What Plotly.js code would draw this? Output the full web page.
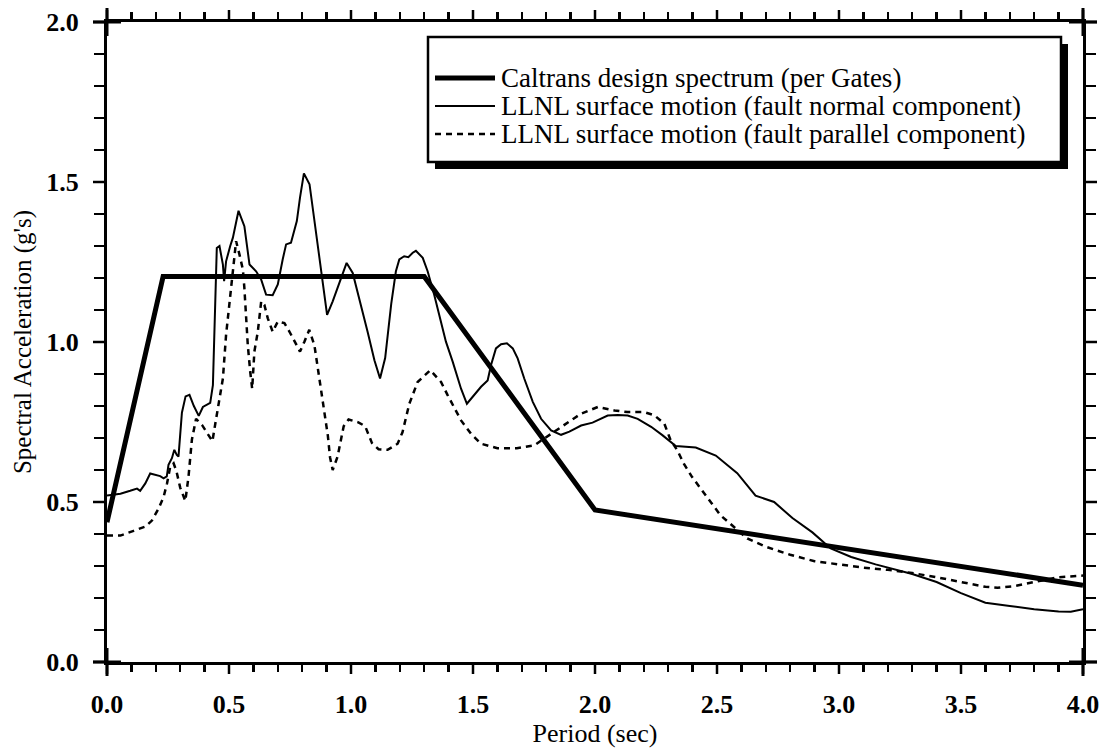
<!DOCTYPE html>
<html>
<head>
<meta charset="utf-8">
<script src="https://cdn.plot.ly/plotly-3.0.1.min.js"></script>
<style>
  html, body { margin: 0; padding: 0; background: #fff; }
  #chart { width: 1109px; height: 750px; }
</style>
</head>
<body>
<div id="chart"></div>
<script>
// Caltrans design spectrum (straight-line segments)
const caltransPeriod = [0.0, 0.23, 1.30, 2.0, 4.0];
const caltransSa     = [0.437, 1.205, 1.205, 0.475, 0.24];

// LLNL surface motion, fault normal component
const normalPeriod = [
  0.00, 0.055, 0.095, 0.123, 0.136, 0.157, 0.177, 0.198, 0.218, 0.232,
  0.245, 0.252, 0.266, 0.276, 0.286, 0.293, 0.307, 0.322, 0.338, 0.356,
  0.376, 0.393, 0.423, 0.434, 0.45, 0.461, 0.475, 0.48, 0.488, 0.505,
  0.516, 0.539, 0.563, 0.584, 0.611, 0.632, 0.652, 0.679, 0.70, 0.72,
  0.734, 0.754, 0.778, 0.791, 0.807, 0.83, 0.854, 0.877, 0.902, 0.925,
  0.955, 0.982, 1.007, 1.034, 1.068, 1.096, 1.119, 1.14, 1.165, 1.184,
  1.198, 1.218, 1.235, 1.253, 1.266, 1.294, 1.314, 1.341, 1.362, 1.389,
  1.417, 1.451, 1.475, 1.499, 1.533, 1.56, 1.574, 1.594, 1.615, 1.639,
  1.663, 1.683, 1.71, 1.745, 1.779, 1.82, 1.861, 1.895, 1.943, 1.99,
  2.025, 2.052, 2.093, 2.134, 2.175, 2.23, 2.276, 2.331, 2.413, 2.495,
  2.583, 2.658, 2.734, 2.809, 2.891, 2.966, 3.05, 3.15, 3.3, 3.4,
  3.5, 3.6, 3.7, 3.8, 3.9, 3.95, 4.0
];
const normalSa = [
  0.52, 0.526, 0.535, 0.542, 0.535, 0.558, 0.589, 0.584, 0.581, 0.574,
  0.58, 0.616, 0.637, 0.663, 0.647, 0.642, 0.779, 0.83, 0.835, 0.80,
  0.769, 0.797, 0.81, 0.865, 1.294, 1.30, 1.242, 1.19, 1.252, 1.30,
  1.326, 1.41, 1.362, 1.242, 1.221, 1.195, 1.148, 1.146, 1.18, 1.258,
  1.305, 1.31, 1.378, 1.451, 1.527, 1.493, 1.362, 1.221, 1.085, 1.127,
  1.19, 1.247, 1.216, 1.137, 1.032, 0.943, 0.886, 0.95, 1.12, 1.221,
  1.258, 1.268, 1.265, 1.279, 1.285, 1.263, 1.221, 1.148, 1.085, 1.001,
  0.938, 0.854, 0.807, 0.828, 0.86, 0.88, 0.928, 0.98, 0.993, 0.996,
  0.98, 0.949, 0.886, 0.813, 0.76, 0.724, 0.71, 0.72, 0.739, 0.748,
  0.76, 0.77, 0.772, 0.77, 0.76, 0.735, 0.709, 0.675, 0.67, 0.645,
  0.59, 0.52, 0.5, 0.45, 0.405, 0.355, 0.328, 0.305, 0.275, 0.25,
  0.215, 0.185, 0.175, 0.165, 0.158, 0.157, 0.165
];

// LLNL surface motion, fault parallel component
const parallelPeriod = [
  0.0, 0.055, 0.109, 0.157, 0.184, 0.211, 0.232, 0.246, 0.259, 0.273,
  0.285, 0.30, 0.321, 0.334, 0.348, 0.365, 0.39, 0.415, 0.432, 0.445,
  0.475, 0.488, 0.502, 0.516, 0.529, 0.543, 0.557, 0.563, 0.57, 0.577,
  0.587, 0.595, 0.604, 0.618, 0.632, 0.645, 0.659, 0.679, 0.70, 0.727,
  0.748, 0.775, 0.791, 0.809, 0.829, 0.85, 0.87, 0.891, 0.905, 0.914,
  0.925, 0.945, 0.97, 0.99, 1.03, 1.058, 1.086, 1.113, 1.15, 1.191,
  1.211, 1.239, 1.273, 1.325, 1.369, 1.396, 1.417, 1.451, 1.492, 1.533,
  1.6, 1.68, 1.751, 1.779, 1.85, 1.915, 1.943, 2.012, 2.08, 2.134,
  2.202, 2.243, 2.284, 2.31, 2.337, 2.364, 2.398, 2.44, 2.474, 2.515,
  2.57, 2.624, 2.7, 2.8, 2.9, 3.0, 3.1, 3.2, 3.3, 3.4,
  3.5, 3.6, 3.65, 3.72, 3.8, 3.9, 4.0
];
const parallelSa = [
  0.395, 0.395, 0.41, 0.423, 0.442, 0.479, 0.516, 0.558, 0.61, 0.621,
  0.595, 0.545, 0.503, 0.579, 0.695, 0.76, 0.74, 0.711, 0.69, 0.75,
  0.886, 1.022, 1.116, 1.221, 1.315, 1.273, 1.226, 1.169, 1.064, 0.99,
  0.907, 0.854, 0.97, 1.032, 1.127, 1.116, 1.074, 1.032, 1.064, 1.059,
  1.032, 0.99, 0.97, 1.001, 1.038, 0.99, 0.886, 0.781, 0.708, 0.64,
  0.60, 0.642, 0.737, 0.758, 0.749, 0.737, 0.684, 0.665, 0.663, 0.682,
  0.718, 0.807, 0.875, 0.912, 0.875, 0.834, 0.802, 0.755, 0.713, 0.682,
  0.668, 0.668, 0.677, 0.692, 0.73, 0.762, 0.776, 0.797, 0.786, 0.781,
  0.781, 0.771, 0.745, 0.693, 0.662, 0.62, 0.578, 0.537, 0.5, 0.458,
  0.422, 0.386, 0.36, 0.335, 0.315, 0.305, 0.295, 0.288, 0.278, 0.265,
  0.25, 0.235, 0.232, 0.237, 0.25, 0.265, 0.27
];

// Axis ticks: labelled values and the spacing of the small ticks between them
const xTickVals = [0, 0.5, 1.0, 1.5, 2.0, 2.5, 3.0, 3.5, 4.0];
const yTickVals = [0, 0.5, 1.0, 1.5, 2.0];
const minorStep = 0.1;

// Legend entries
const seriesNames = [
  'Caltrans design spectrum (per Gates)',
  'LLNL surface motion (fault normal component)',
  'LLNL surface motion (fault parallel component)'
];

const FONT = 'Liberation Serif, Times New Roman, serif';
const W = 1109, H = 750;
const M = { l: 107, r: 26, t: 22, b: 88 };
const plotW = W - M.l - M.r, plotH = H - M.t - M.b;
const px2x = px => (px - M.l) / plotW;
const px2y = py => (H - M.b - py) / plotH;
const pxW = n => n / plotW;   // horizontal pixel length as paper fraction
const pxH = n => n / plotH;   // vertical pixel length as paper fraction

const styles = [
  { color: '#000', width: 5, dash: 'solid' },
  { color: '#000', width: 2, dash: 'solid' },
  { color: '#000', width: 2.5, dash: '6px,5px' }
];

const traces = [
  { x: caltransPeriod, y: caltransSa, name: seriesNames[0] },
  { x: normalPeriod, y: normalSa, name: seriesNames[1] },
  { x: parallelPeriod, y: parallelSa, name: seriesNames[2] }
].map((t, i) => Object.assign(t, {
  type: 'scatter', mode: 'lines', showlegend: false,
  line: Object.assign({ shape: 'linear' }, styles[i])
}));

const xRange = [xTickVals[0], xTickVals[xTickVals.length - 1]];
const yRange = [yTickVals[0], yTickVals[yTickVals.length - 1]];
const xFrac = v => (v - xRange[0]) / (xRange[1] - xRange[0]);
const yFrac = v => (v - yRange[0]) / (yRange[1] - yRange[0]);

// Every 0.1 step gets a tick; only the labelled values carry text
function fineTicks(range, labelled) {
  const n = Math.round((range[1] - range[0]) / minorStep);
  const vals = [], text = [];
  for (let i = 0; i <= n; i++) {
    const v = +(range[0] + i * minorStep).toFixed(3);
    vals.push(v);
    text.push(labelled.some(l => Math.abs(l - v) < 1e-6) ? v.toFixed(1) : '');
  }
  return { vals, text };
}
const xFine = fineTicks(xRange, xTickVals);
const yFine = fineTicks(yRange, yTickVals);

const shapes = [];

// Longer ticks at the labelled values on all four sides, pointing outward
const majorLenX = 12, majorLenY = 14, majorLine = { color: '#000', width: 2.5 };
xTickVals.forEach(v => {
  const f = xFrac(v);
  shapes.push({ type: 'line', xref: 'paper', yref: 'paper',
    x0: f, x1: f, y0: 0, y1: -pxH(majorLenX), line: majorLine });
  shapes.push({ type: 'line', xref: 'paper', yref: 'paper',
    x0: f, x1: f, y0: 1, y1: 1 + pxH(majorLenX), line: majorLine });
});
yTickVals.forEach(v => {
  const f = yFrac(v);
  shapes.push({ type: 'line', xref: 'paper', yref: 'paper',
    y0: f, y1: f, x0: 0, x1: -pxW(majorLenY), line: majorLine });
  shapes.push({ type: 'line', xref: 'paper', yref: 'paper',
    y0: f, y1: f, x0: 1, x1: 1 + pxW(majorLenY), line: majorLine });
});

// Frame corners: axis lines run a little past each other
const ext = 14;
[[0, 0], [1, 0], [0, 1], [1, 1]].forEach(([cx, cy]) => {
  shapes.push({ type: 'line', xref: 'paper', yref: 'paper',
    x0: cx - pxW(ext), x1: cx + pxW(ext), y0: cy, y1: cy, line: { color: '#000', width: 3 } });
  shapes.push({ type: 'line', xref: 'paper', yref: 'paper',
    x0: cx, x1: cx, y0: cy - pxH(ext), y1: cy + pxH(ext), line: { color: '#000', width: 3 } });
});

// Legend box with drop shadow, sample lines and labels
const box = { x0: 428, x1: 1061, y0: 37, y1: 162, shadow: 7 };
const rowsY = [78, 106, 134];
const sampleX = [435, 495];
const textX = 499;

shapes.push(
  { type: 'rect', xref: 'paper', yref: 'paper', layer: 'above',
    x0: px2x(box.x0 + box.shadow), x1: px2x(box.x1 + box.shadow),
    y0: px2y(box.y0 + box.shadow), y1: px2y(box.y1 + box.shadow),
    fillcolor: '#000', line: { width: 0 } },
  { type: 'rect', xref: 'paper', yref: 'paper', layer: 'above',
    x0: px2x(box.x0), x1: px2x(box.x1), y0: px2y(box.y0), y1: px2y(box.y1),
    fillcolor: '#fff', line: { color: '#000', width: 2.5 } }
);
const annotations = [];
rowsY.forEach((ry, i) => {
  shapes.push({ type: 'line', xref: 'paper', yref: 'paper', layer: 'above',
    x0: px2x(sampleX[0]), x1: px2x(sampleX[1]), y0: px2y(ry), y1: px2y(ry),
    line: { color: '#000', width: styles[i].width, dash: styles[i].dash } });
  annotations.push({ xref: 'paper', yref: 'paper', x: px2x(textX), y: px2y(ry),
    xanchor: 'left', yanchor: 'middle', showarrow: false, text: seriesNames[i],
    font: { family: FONT, size: 27, color: '#000' } });
});

const axisCommon = {
  showgrid: false, zeroline: false, showline: true, linecolor: '#000', linewidth: 3,
  mirror: 'ticks', ticks: 'outside', tickcolor: '#000', tickwidth: 2.5,
  tickfont: { family: FONT, size: 26, color: '#000', weight: 'bold' },
  tickmode: 'array', fixedrange: true
};

const layout = {
  width: W, height: H, margin: M,
  paper_bgcolor: '#fff', plot_bgcolor: '#fff',
  showlegend: false,
  xaxis: Object.assign({}, axisCommon, {
    range: xRange, tickvals: xFine.vals, ticktext: xFine.text, ticklen: 7,
    ticklabelstandoff: 10,
    title: { text: 'Period (sec)', standoff: 6, font: { family: FONT, size: 26, color: '#000' } }
  }),
  yaxis: Object.assign({}, axisCommon, {
    range: yRange, tickvals: yFine.vals, ticktext: yFine.text, ticklen: 10,
    ticklabelstandoff: 10,
    title: { text: "Spectral Acceleration (g's)", standoff: 8, font: { family: FONT, size: 25, color: '#000' } }
  }),
  shapes: shapes,
  annotations: annotations
};

Plotly.newPlot('chart', traces, layout, { staticPlot: true, displayModeBar: false });
</script>
</body>
</html>
